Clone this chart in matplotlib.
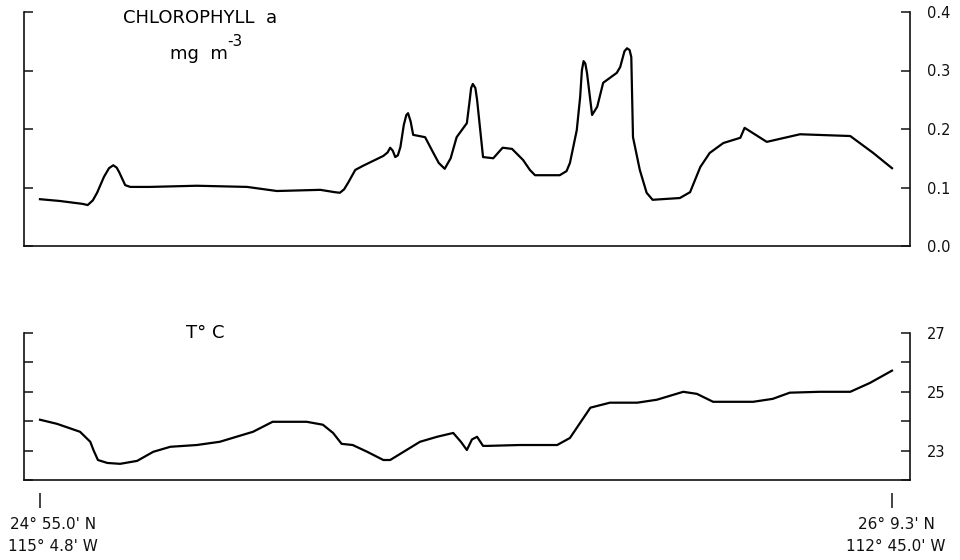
import numpy as np
import matplotlib
matplotlib.use('Agg')
import matplotlib.pyplot as plt
from matplotlib.transforms import offset_copy

plt.rcParams['font.family'] = ['DejaVu Sans']
plt.rcParams['mathtext.fontset'] = 'dejavusans'

# distance along the transect, percent of the way from the first to the last station
chl_dist = [0.0, 2.3, 5.0, 5.6, 6.2, 6.7, 7.5, 8.1, 8.6, 9.0, 9.3, 10.0, 10.6, 12.9,
            18.4, 24.3, 27.8, 32.9, 34.6, 35.2, 35.7, 36.2, 37.0, 37.9, 40.3, 40.8,
            41.1, 41.4, 41.7, 42.0, 42.3, 42.7, 43.0, 43.2, 43.5, 43.8, 45.2, 46.1,
            46.8, 47.5, 48.2, 48.9, 50.1, 50.4, 50.6, 50.8, 51.1, 51.3, 52.0, 53.2,
            54.3, 55.4, 56.7, 57.5, 58.1, 61.0, 61.8, 62.2, 63.0, 63.4, 63.6, 63.8,
            64.0, 64.2, 64.8, 65.4, 66.1, 67.7, 68.1, 68.6, 68.9, 69.2, 69.4, 69.6,
            70.4, 71.2, 71.9, 75.1, 76.3, 77.5, 78.6, 80.2, 82.2, 82.7, 85.3, 89.2,
            95.1, 97.8, 100.0]
# chlorophyll a, mg m-3
chl = [0.080, 0.077, 0.072, 0.070, 0.078, 0.091, 0.118, 0.133, 0.138, 0.134, 0.126,
       0.104, 0.101, 0.101, 0.103, 0.101, 0.094, 0.096, 0.092, 0.091, 0.097, 0.109,
       0.130, 0.137, 0.154, 0.160, 0.168, 0.163, 0.152, 0.155, 0.169, 0.207, 0.224,
       0.227, 0.213, 0.190, 0.186, 0.161, 0.142, 0.132, 0.150, 0.186, 0.210, 0.245,
       0.270, 0.277, 0.270, 0.250, 0.152, 0.150, 0.168, 0.166, 0.147, 0.130, 0.121,
       0.121, 0.128, 0.142, 0.198, 0.255, 0.300, 0.316, 0.312, 0.296, 0.224, 0.238,
       0.279, 0.296, 0.306, 0.333, 0.338, 0.335, 0.323, 0.186, 0.130, 0.091, 0.079,
       0.082, 0.092, 0.135, 0.159, 0.176, 0.185, 0.202, 0.178, 0.191, 0.188, 0.159,
       0.133]

temp_dist = [0.0, 2.0, 4.7, 5.9, 6.3, 6.8, 7.9, 9.4, 11.4, 13.3, 15.3, 18.4, 21.1,
             25.0, 27.3, 31.3, 33.2, 34.4, 35.4, 36.7, 38.4, 40.3, 41.1, 44.6, 46.6,
             48.5, 49.4, 50.1, 50.7, 51.3, 52.0, 52.5, 56.3, 60.7, 62.2, 64.6, 66.9,
             70.1, 72.4, 75.5, 77.1, 79.0, 83.7, 86.0, 88.0, 91.5, 95.1, 97.4, 100.0]
# temperature, deg C
temp = [24.05, 23.91, 23.64, 23.30, 23.00, 22.68, 22.58, 22.55, 22.65, 22.96, 23.13,
        23.19, 23.30, 23.64, 23.98, 23.98, 23.88, 23.60, 23.23, 23.19, 22.96, 22.68,
        22.68, 23.30, 23.47, 23.60, 23.30, 23.02, 23.38, 23.47, 23.16, 23.16, 23.19,
        23.19, 23.43, 24.46, 24.63, 24.63, 24.73, 25.00, 24.93, 24.66, 24.66, 24.76,
        24.97, 25.00, 25.00, 25.30, 25.72]

chl_ticks = [0.0, 0.1, 0.2, 0.3, 0.4]
chl_labels = ['0.0', '0.1', '0.2', '0.3', '0.4']
temp_ticks = [22, 23, 24, 25, 26, 27]
temp_labels = ['', '23', '', '25', '', '27']

station_dist = [0, 100]
station_labels = ["24° 55.0' N\n115° 4.8' W", "26° 9.3' N\n112° 45.0' W"]

W, H = 960, 560
fig = plt.figure(figsize=(W / 100, H / 100), dpi=100)

ax_c = fig.add_axes([24 / W, 1 - 246 / H, 886 / W, 234 / H])
ax_t = fig.add_axes([24 / W, 1 - 480 / H, 886 / W, 147 / H])

xlim = (-16 / 8.52, 870 / 8.52)

for ax in (ax_c, ax_t):
    ax.spines['top'].set_visible(False)
    for s in ('left', 'right', 'bottom'):
        ax.spines[s].set_linewidth(1.2)
        ax.spines[s].set_color('#111111')
    ax.set_xlim(*xlim)
    ax.set_xticks([])
    ax.tick_params(axis='y', direction='in', length=6.5, width=1.1, left=True,
                   right=True, labelleft=False, labelright=True, pad=12,
                   labelsize=10.5, colors='#111111')

ax_c.plot(chl_dist, chl, color='black', lw=1.6, solid_joinstyle='round')
ax_c.set_ylim(0, 0.4)
ax_c.set_yticks(chl_ticks)
ax_c.set_yticklabels(chl_labels)

ax_t.plot(temp_dist, temp, color='black', lw=1.6, solid_joinstyle='round')
ax_t.set_ylim(22, 27)
ax_t.set_yticks(temp_ticks)
ax_t.set_yticklabels(temp_labels)

ax_c.text(99 / 886, 1 - 6 / 234, 'CHLOROPHYLL  a', transform=ax_c.transAxes,
          fontsize=13, ha='left', va='center')
ax_c.text(146 / 886, 1 - 42 / 234, 'mg  m', transform=ax_c.transAxes,
          fontsize=13, ha='left', va='center')
ax_c.text(203 / 886, 1 - 29 / 234, '-3', transform=ax_c.transAxes,
          fontsize=11, ha='left', va='center')
ax_t.text(162 / 886, 1.0, 'T° C', transform=ax_t.transAxes,
          fontsize=13, ha='left', va='center')

# station marks sit a little below the temperature axis
sec = ax_t.secondary_xaxis(-13 / 147)
sec.spines['bottom'].set_visible(False)
sec.set_xticks(station_dist)
sec.set_xticklabels(station_labels)
sec.tick_params(axis='x', direction='out', length=11, width=1.1, pad=6,
                labelsize=11, colors='#111111')
for lab in sec.get_xticklabels():
    lab.set_linespacing(1.6)
labs = sec.get_xticklabels()
labs[0].set_transform(offset_copy(labs[0].get_transform(), fig=fig, x=13, y=0, units='dots'))
labs[1].set_transform(offset_copy(labs[1].get_transform(), fig=fig, x=4, y=0, units='dots'))

fig.savefig('out.png', dpi=100)
